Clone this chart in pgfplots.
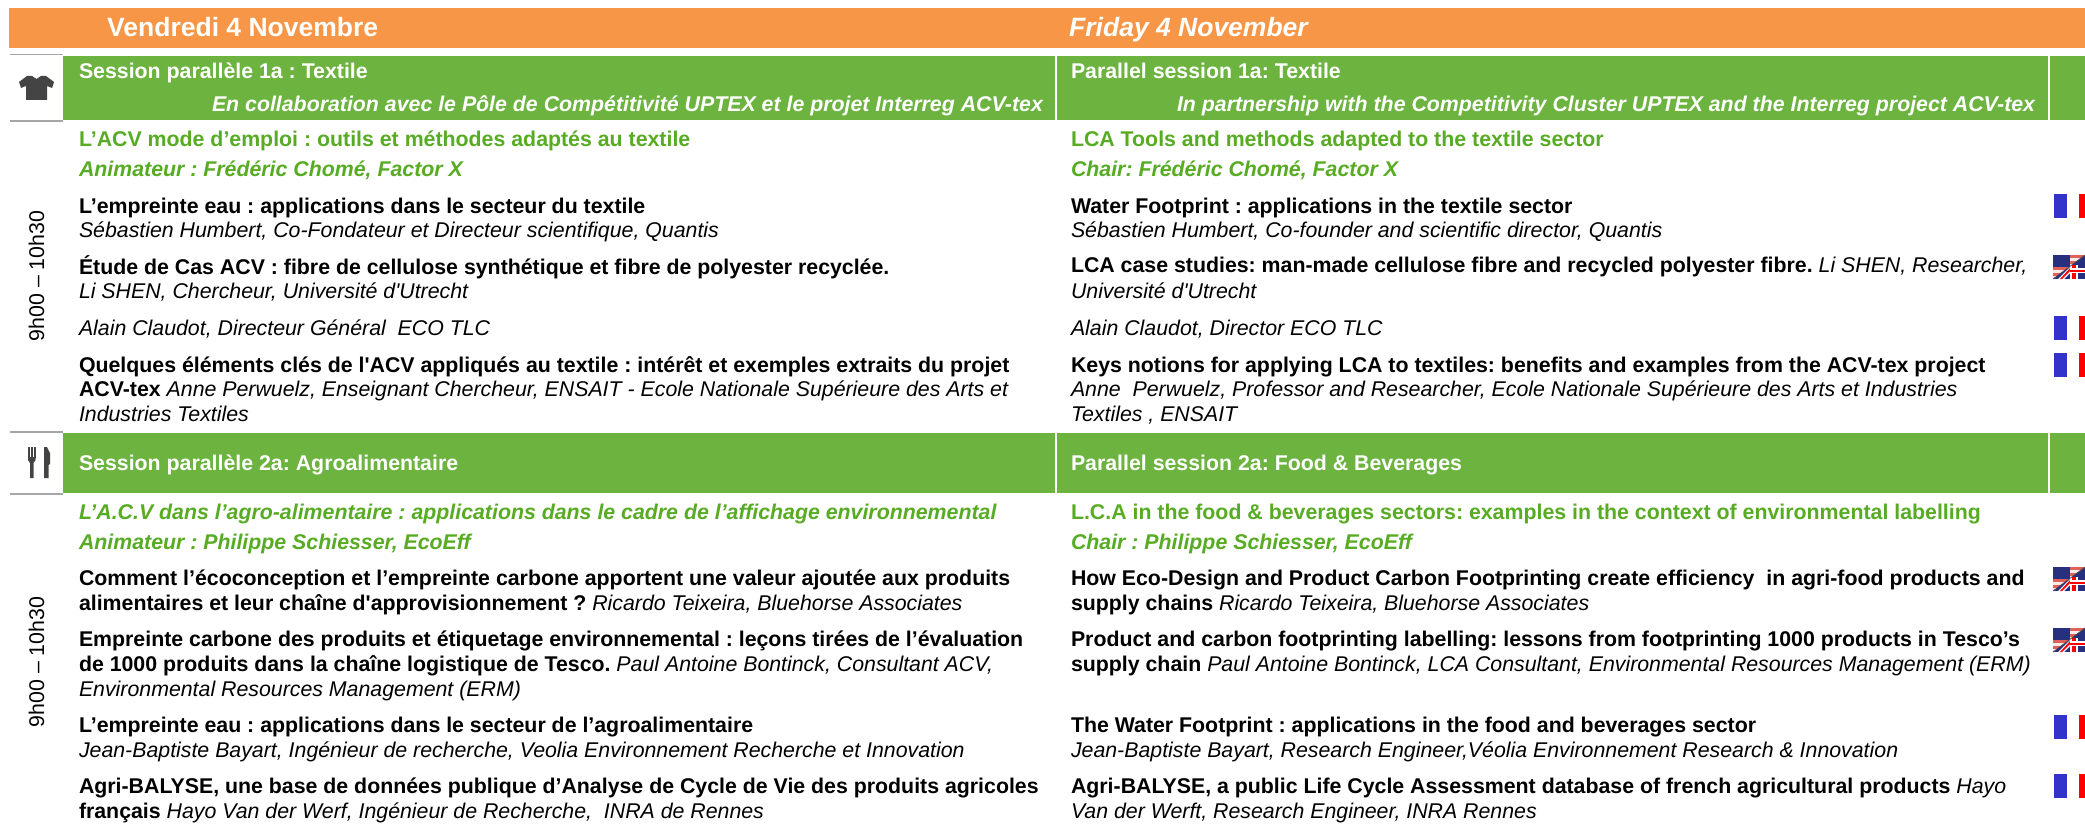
\documentclass[border=0pt]{standalone}
\usepackage{pgfplots}
\pgfplotsset{compat=1.18}
\usepackage{fontspec}
\setmainfont{Liberation Sans}[Ligatures=TeXOff]
\frenchspacing
\definecolor{orangeb}{HTML}{F79646}
\definecolor{greenb}{HTML}{6CB33F}
\definecolor{greent}{HTML}{58AC24}
\definecolor{grayl}{HTML}{A6A6A6}
\definecolor{icon}{HTML}{444444}
\definecolor{frb}{HTML}{3333CC}
\definecolor{frr}{HTML}{FF0000}
\definecolor{navy}{HTML}{26307F}
\definecolor{stred}{HTML}{E0605A}
\definecolor{stwh}{HTML}{F8EAE4}
\newcommand{\fs}{\fontsize{21.4}{25}\selectfont}
\newcommand{\rect}[5]{\addplot[fill=#1,draw=none] coordinates {(#2,#3)(#4,#3)(#4,#5)(#2,#5)};}
\newcommand{\frflag}[1]{\rect{frb}{2054}{#1}{2066.5}{#1+24}\rect{frr}{2079}{#1}{2085}{#1+24}}
\newcommand{\st}[4]{\addplot[fill=#4,draw=none] coordinates {(2053,#1+#2)(2053+32*(1-#2/24),#1+#2)(2053+32*(1-#3/24),#1+#3)(2053,#1+#3)};}
\newcommand{\ukflag}[1]{%
  \rect{navy}{2053}{#1}{2085}{#1+24}
  \addplot[fill=white,draw=none] coordinates {(2058,#1+24)(2064,#1+24)(2074,#1+14)(2070,#1+12)};
  \addplot[fill=frr,draw=none] coordinates {(2060,#1+24)(2062,#1+24)(2073,#1+13)(2071,#1+12)};
  \rect{white}{2070}{#1+10}{2078}{#1+24}
  \rect{frr}{2072}{#1+10}{2076}{#1+24}
  \rect{white}{2070}{#1+13}{2085}{#1+18}
  \rect{frr}{2070}{#1+14.5}{2085}{#1+16.5}
  \st{#1}{0}{3}{stred}\st{#1}{3}{6}{stwh}\st{#1}{6}{9}{stred}\st{#1}{9}{12}{stwh}\st{#1}{12}{15}{stred}\st{#1}{15}{18}{stwh}\st{#1}{18}{21}{stred}\st{#1}{21}{24}{stwh}
  \rect{navy}{2053}{#1}{2070}{#1+12}
  \addplot[draw=black!70,line width=0.7pt] coordinates {(2053,#1+24)(2085,#1)};
}
\newcommand{\T}[3]{\node[anchor=base west,inner sep=0pt,outer sep=0pt] at (axis cs:#1,#2) {\fs #3};}
\newcommand{\B}[3]{\T{#1}{#2}{\textbf{#3}}}
\newcommand{\I}[3]{\T{#1}{#2}{\textit{#3}}}
\newcommand{\G}[3]{\T{#1}{#2}{\color{greent}\textbf{#3}}}
\newcommand{\GI}[3]{\T{#1}{#2}{\color{greent}\textbf{\textit{#3}}}}
\newcommand{\W}[3]{\T{#1}{#2}{\color{white}\textbf{#3}}}
\begin{document}
\begin{tikzpicture}
\begin{axis}[hide axis,scale only axis,width=2085bp,height=824bp,
  xmin=0,xmax=2085,ymin=0,ymax=824,y dir=reverse,clip=true]
\rect{white}{0}{0}{2085}{824}
\rect{orangeb}{9}{8}{2085}{48}
\rect{greenb}{63}{56}{1055}{120}
\rect{greenb}{1057}{56}{2048}{120}
\rect{greenb}{2050}{56}{2085}{120}
\rect{greenb}{63}{433}{1055}{493}
\rect{greenb}{1057}{433}{2048}{493}
\rect{greenb}{2050}{433}{2085}{493}
\rect{grayl}{10}{54}{63}{55.5}
\rect{grayl}{10}{120}{63}{121.5}
\rect{grayl}{10}{431}{63}{432.5}
\rect{grayl}{10}{493}{63}{494.5}
% shirt icon
\addplot[fill=icon,draw=none] coordinates {(19,82)(27,76)(32,76)(36.5,79)(41,76)(46,76)(54,82)(52,88)(47,86)(47,100)(26,100)(26,86)(21,88)};
% fork and knife icon
\rect{icon}{28}{447}{29.5}{458}
\rect{icon}{31}{447}{32.5}{458}
\rect{icon}{34}{447}{35.5}{458}
\addplot[fill=icon,draw=none] coordinates {(28,457)(35.5,457)(35.5,460)(33.5,463)(33.5,478)(30,478)(30,463)(28,460)};
\addplot[fill=icon,draw=none] coordinates {(44,447)(47,447)(50,453)(50,464)(48.5,465)(48.5,478)(44,478)};
% flags
\frflag{194}\frflag{316}\frflag{353}\frflag{715}\frflag{774}
\ukflag{255}\ukflag{567}\ukflag{628}
% headings
\node[anchor=base west,inner sep=0pt] at (axis cs:107,37) {\fontsize{26.6}{30}\selectfont\color{white}\textbf{Vendredi 4 Novembre}};
\node[anchor=base west,inner sep=0pt] at (axis cs:1069,37) {\fontsize{26.6}{30}\selectfont\color{white}\textbf{\textit{Friday 4 November}}};
\W{79}{79}{Session parallèle 1a : Textile}
\W{212}{111}{\textit{En collaboration avec le Pôle de Compétitivité UPTEX et le projet Interreg ACV-tex}}
\W{1071}{79}{Parallel session 1a: Textile}
\W{1177}{111}{\textit{In partnership with the Competitivity Cluster UPTEX and the Interreg project ACV-tex}}
\W{79}{470}{Session parallèle 2a: Agroalimentaire}
\W{1071}{470}{Parallel session 2a: Food \& Beverages}
% time labels
\node[rotate=90,anchor=base,inner sep=0pt] at (axis cs:44,276) {\fs 9h00 – 10h30};
\node[rotate=90,anchor=base,inner sep=0pt] at (axis cs:44,662) {\fs 9h00 – 10h30};
% French column, session 1
\G{79}{146}{L’ACV mode d’emploi : outils et méthodes adaptés au textile}
\GI{79}{176}{Animateur : Frédéric Chomé, Factor X}
\B{79}{213}{L’empreinte eau : applications dans le secteur du textile}
\I{79}{237}{Sébastien Humbert, Co-Fondateur et Directeur scientifique, Quantis}
\B{79}{274}{Étude de Cas ACV : fibre de cellulose synthétique et fibre de polyester recyclée.}
\I{79}{298}{Li SHEN, Chercheur, Université d'Utrecht}
\I{79}{335}{Alain Claudot, Directeur Général\ \ ECO TLC}
\B{79}{372}{Quelques éléments clés de l'ACV appliqués au textile : intérêt et exemples extraits du projet}
\T{79}{396}{\textbf{ACV-tex} \textit{Anne Perwuelz, Enseignant Chercheur, ENSAIT - Ecole Nationale Supérieure des Arts et}}
\I{79}{421}{Industries Textiles}
% French column, session 2
\GI{79}{519}{L’A.C.V dans l’agro-alimentaire : applications dans le cadre de l’affichage environnemental}
\GI{79}{549}{Animateur : Philippe Schiesser, EcoEff}
\B{79}{585}{Comment l’écoconception et l’empreinte carbone apportent une valeur ajoutée aux produits}
\T{79}{610}{\textbf{alimentaires et leur chaîne d'approvisionnement ?} \textit{Ricardo Teixeira, Bluehorse Associates}}
\B{79}{646}{Empreinte carbone des produits et étiquetage environnemental : leçons tirées de l’évaluation}
\T{79}{671}{\textbf{de 1000 produits dans la chaîne logistique de Tesco.} \textit{Paul Antoine Bontinck, Consultant ACV,}}
\I{79}{696}{Environmental Resources Management (ERM)}
\B{79}{732}{L’empreinte eau : applications dans le secteur de l’agroalimentaire}
\I{79}{757}{Jean-Baptiste Bayart, Ingénieur de recherche, Veolia Environnement Recherche et Innovation}
\B{79}{793}{Agri-BALYSE, une base de données publique d’Analyse de Cycle de Vie des produits agricoles}
\T{79}{818}{\textbf{français} \textit{Hayo Van der Werf, Ingénieur de Recherche,\ \ INRA de Rennes}}
% English column, session 1
\G{1071}{146}{LCA Tools and methods adapted to the textile sector}
\GI{1071}{176}{Chair: Frédéric Chomé, Factor X}
\B{1071}{213}{Water Footprint : applications in the textile sector}
\I{1071}{237}{Sébastien Humbert, Co-founder and scientific director, Quantis}
\T{1071}{272}{\textbf{LCA case studies: man-made cellulose fibre and recycled polyester fibre.} \textit{Li SHEN, Researcher,}}
\I{1071}{298}{Université d'Utrecht}
\I{1071}{335}{Alain Claudot, Director ECO TLC}
\B{1071}{372}{Keys notions for applying LCA to textiles: benefits and examples from the ACV-tex project}
\I{1071}{396}{Anne\ \ Perwuelz, Professor and Researcher, Ecole Nationale Supérieure des Arts et Industries}
\I{1071}{421}{Textiles , ENSAIT}
% English column, session 2
\G{1071}{519}{L.C.A in the food \& beverages sectors: examples in the context of environmental labelling}
\GI{1071}{549}{Chair : Philippe Schiesser, EcoEff}
\B{1071}{585}{How Eco-Design and Product Carbon Footprinting create efficiency\ \ in agri-food products and}
\T{1071}{610}{\textbf{supply chains} \textit{Ricardo Teixeira, Bluehorse Associates}}
\B{1071}{646}{Product and carbon footprinting labelling: lessons from footprinting 1000 products in Tesco’s}
\T{1071}{671}{\textbf{supply chain} \textit{Paul Antoine Bontinck, LCA Consultant, Environmental Resources Management (ERM)}}
\B{1071}{732}{The Water Footprint : applications in the food and beverages sector}
\I{1071}{757}{Jean-Baptiste Bayart, Research Engineer,Véolia Environnement Research \& Innovation}
\T{1071}{793}{\textbf{Agri-BALYSE, a public Life Cycle Assessment database of french agricultural products} \textit{Hayo}}
\I{1071}{818}{Van der Werft, Research Engineer, INRA Rennes}
\end{axis}
\end{tikzpicture}
\end{document}
